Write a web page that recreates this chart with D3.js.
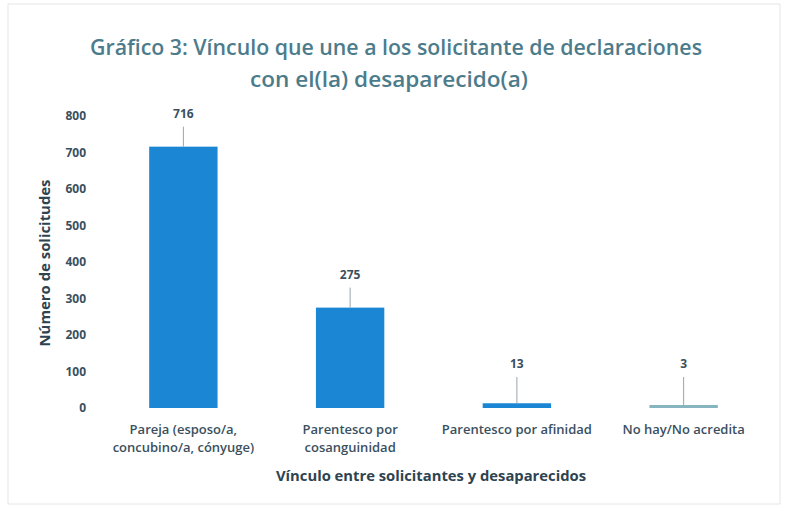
<!DOCTYPE html>
<html><head><meta charset="utf-8">
<script src="https://cdn.jsdelivr.net/npm/d3@7"></script>
<style>body{margin:0;background:#fff}</style>
</head><body>
<svg id="c" width="788" height="509"></svg>
<script>
const categories = [
  ["Pareja (esposo/a,", "concubino/a, cónyuge)"],
  ["Parentesco por", "cosanguinidad"],
  ["Parentesco por afinidad"],
  ["No hay/No acredita"]
];
const values = [716, 275, 13, 3];
const yTicks = [0, 100, 200, 300, 400, 500, 600, 700, 800];
const titleLines = ["Gráfico 3: Vínculo que une a los solicitante de declaraciones", "con el(la) desaparecido(a)"];
const yTitle = "Número de solicitudes";
const xTitle = "Vínculo entre solicitantes y desaparecidos";
const barColors = ["#1a86d4", "#1a86d4", "#1a86d4", "#86b4bf"];

const svg = d3.select("#c");
svg.append("rect").attr("x",8).attr("y",4).attr("width",772).attr("height",500)
  .attr("fill","none").attr("stroke","#e6e6e6").attr("stroke-width",1);

const x = d3.scaleBand().domain(d3.range(categories.length)).range([100, 767]).paddingInner(0.59).paddingOuter(0.295);
const y = d3.scaleLinear().domain([0, 800]).range([408, 116]);

const textCol = "#3a5060";
const font = "'Open Sans', sans-serif";

// title
const titleX = [396, 389], titleLen = [612, 278];
svg.selectAll("text.title").data(titleLines).enter().append("text")
  .attr("x", (d,i)=>titleX[i]).attr("y", (d,i)=>55 + i*32).attr("text-anchor","middle")
  .attr("font-family", font).attr("font-size", 21).attr("fill","#4c7c8b")
  .attr("font-weight", 600)
  .attr("textLength", (d,i)=>titleLen[i]).attr("lengthAdjust","spacingAndGlyphs")
  .text(d=>d);

// y axis
const yAxis = d3.axisLeft(y).tickValues(yTicks).tickSize(0).tickPadding(0);
const gy = svg.append("g").attr("transform","translate(86,0)").call(yAxis);
gy.select(".domain").remove();
gy.selectAll("text").attr("font-family", font).attr("font-size", 12).attr("font-weight", 700).attr("fill", textCol);

svg.append("text").attr("transform","translate(50,263) rotate(-90)").attr("text-anchor","middle")
  .attr("font-family", font).attr("font-size", 14).attr("font-weight", 700).attr("fill","#2e4350")
  .attr("textLength", 167).attr("lengthAdjust","spacingAndGlyphs").text(yTitle);

// bars
svg.selectAll("rect.bar").data(values).enter().append("rect")
  .attr("x",(d,i)=>x(i)).attr("width", x.bandwidth())
  .attr("y", d=>Math.min(y(d), y(0)-3)).attr("height", d=>Math.max(y(0)-y(d), 3))
  .attr("fill",(d,i)=>barColors[i]);

// leader lines + value labels
const lblY = v => Math.min(y(v) - 29, 368);
svg.selectAll("line.lead").data(values).enter().append("line")
  .attr("x1",(d,i)=>x(i)+x.bandwidth()/2).attr("x2",(d,i)=>x(i)+x.bandwidth()/2)
  .attr("y1", d=>lblY(d)+9).attr("y2", d=>Math.min(y(d), y(0)-3))
  .attr("stroke","#9aa4aa").attr("stroke-width",1);
svg.selectAll("text.val").data(values).enter().append("text")
  .attr("x",(d,i)=>x(i)+x.bandwidth()/2).attr("y", d=>lblY(d)).attr("text-anchor","middle")
  .attr("font-family", font).attr("font-size", 12).attr("font-weight",700).attr("fill", textCol)
  .text(d=>d);

// x axis labels
const xAxis = d3.axisBottom(x).tickSize(0).tickFormat(()=>"");
const gx = svg.append("g").attr("transform","translate(0,408)").call(xAxis);
gx.select(".domain").remove();
categories.forEach((lines,i)=>{
  const t = svg.append("text").attr("x", x(i)+x.bandwidth()/2).attr("y", 434).attr("text-anchor","middle")
    .attr("font-family", font).attr("font-size", 13).attr("font-weight", 600).attr("fill", textCol);
  lines.forEach((l,j)=> t.append("tspan").attr("x", x(i)+x.bandwidth()/2).attr("dy", j===0?0:18).text(l));
});

svg.append("text").attr("x", 431).attr("y", 481).attr("text-anchor","middle")
  .attr("font-family", font).attr("font-size", 14).attr("font-weight",700).attr("fill","#2e4350")
  .attr("textLength", 310).attr("lengthAdjust","spacingAndGlyphs").text(xTitle);
</script>
</body></html>
